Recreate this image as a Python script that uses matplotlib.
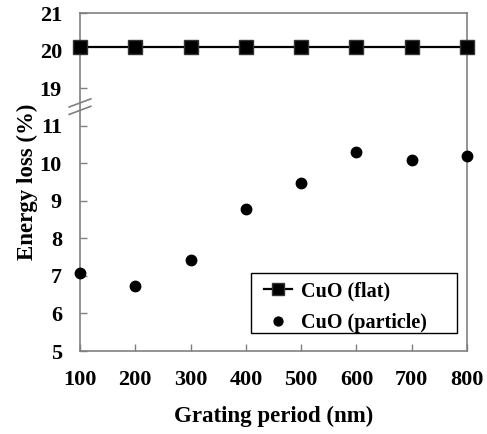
import numpy as np
import matplotlib
matplotlib.use('Agg')
import matplotlib.pyplot as plt
from matplotlib.patches import Rectangle

plt.rcParams['font.family'] = ['Liberation Serif', 'DejaVu Serif']
plt.rcParams['font.weight'] = 'bold'

period = [100, 200, 300, 400, 500, 600, 700, 800]
flat = [20.1, 20.1, 20.1, 20.1, 20.1, 20.1, 20.1, 20.1]
particle = [7.07, 6.73, 7.43, 8.79, 9.47, 10.29, 10.08, 10.18]
yticks = [5, 6, 7, 8, 9, 10, 11, 19, 20, 21]

# squeeze 11..19 into one unit for the axis break
def fwd(y):
    y = np.asarray(y, dtype=float)
    return np.where(y <= 11, y, np.where(y >= 19, y - 7, 11 + (y - 11) / 8))

def inv(y):
    y = np.asarray(y, dtype=float)
    return np.where(y <= 11, y, np.where(y >= 12, y + 7, 11 + (y - 11) * 8))

fig = plt.figure(figsize=(4.87, 4.34), dpi=100)
ax = fig.add_axes([0.1643, 0.1912, 0.7947, 0.7788])
ax.set_yscale('function', functions=(fwd, inv))

ax.plot(period, flat, color='black', lw=1.6, marker='s', ms=10,
        mec='#333333', mfc='black', clip_on=False, zorder=5, label='CuO (flat)')
ax.plot(period, particle, ls='none', marker='o', ms=7.5, color='black',
        clip_on=False, zorder=5, label='CuO (particle)')

ax.set_xlim(100, 800)
ax.set_ylim(5, 21)
ax.set_xticks(period)
ax.set_yticks(yticks)
ax.set_yticklabels([str(t) for t in yticks])
ax.yaxis.set_minor_locator(matplotlib.ticker.NullLocator())
ax.tick_params(direction='in', length=5, width=1, color='#808080',
               labelsize=16)
ax.tick_params(axis='y', pad=13)
ax.tick_params(axis='x', pad=14)
for lab in ax.get_xticklabels() + ax.get_yticklabels():
    lab.set_fontweight('bold')
for s in ax.spines.values():
    s.set_color('#808080')
    s.set_linewidth(1.2)

ax.set_xlabel('Grating period (nm)', fontsize=16.5, fontweight='bold', labelpad=11)
ax.set_ylabel('Energy loss (%)', fontsize=16.5, fontweight='bold', labelpad=1)

# break marks on left spine
bx = [-0.028, 0.028]
for off in [0.0, 0.022]:
    ax.plot(bx, [0.722 - off, 0.746 - off], transform=ax.transAxes,
            color='#808080', lw=1.2, clip_on=False)

# legend box drawn separately (extra room on the right like the original)
ax.add_patch(Rectangle((0.442, 0.053), 0.532, 0.178, transform=ax.transAxes,
                       fill=True, facecolor='white', edgecolor='black',
                       lw=1.0, zorder=6))
leg = ax.legend(loc='upper left', bbox_to_anchor=(0.476, 0.206), fontsize=14.5,
                frameon=False, borderpad=0, borderaxespad=0, markerscale=0.85,
                handlelength=1.4, handletextpad=0.45, labelspacing=0.6)
leg.set_zorder(7)

fig.savefig('out.png', dpi=100)
